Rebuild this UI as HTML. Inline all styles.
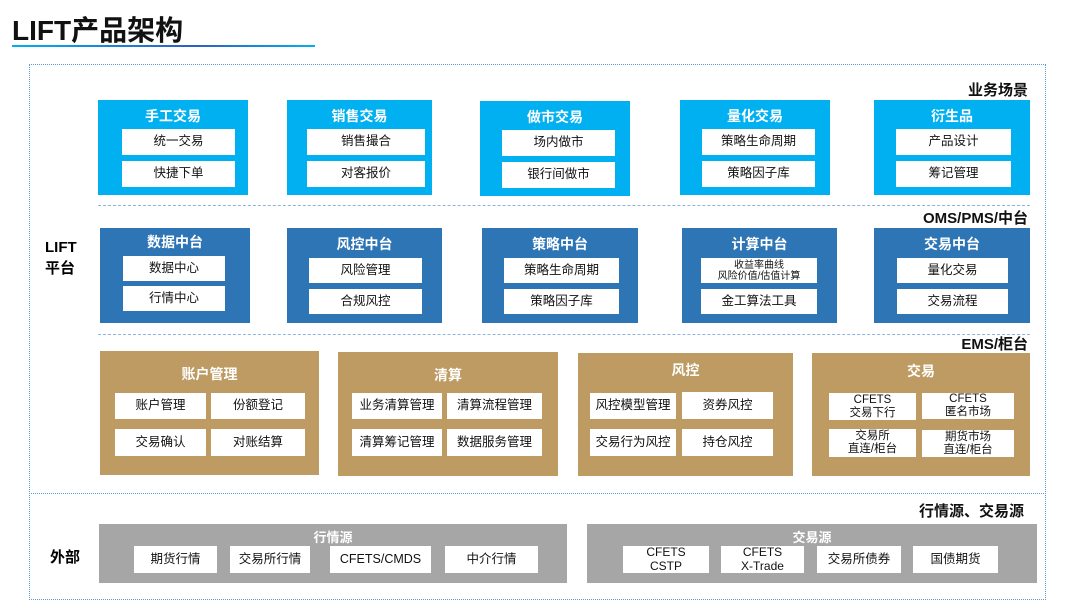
<!DOCTYPE html>
<html><head><meta charset="utf-8"><style>
*{margin:0;padding:0;box-sizing:border-box}
body{width:1080px;height:616px;background:#fff;position:relative;overflow:hidden;font-family:"Liberation Sans","Noto Sans CJK SC",sans-serif}
.a{position:absolute}
.t{position:absolute;color:#fff;font-weight:bold;font-size:14px;text-align:center;left:0;right:0}
.w{position:absolute;background:#fff;color:#111;font-size:12.5px;text-align:center;display:flex;align-items:center;justify-content:center;line-height:1.1}
.c{background:#00b0f0}.b{background:#2e75b6}.g{background:#bd9b63}.gr{background:#a6a6a6}
.lbl{position:absolute;font-weight:bold;font-size:15px;color:#111;text-align:right}
.dash{position:absolute;height:0;border-top:1.5px dashed #8db3e2}
</style></head><body>
<div class="a" style="left:12px;top:9px;font-size:28px;font-weight:bold;color:#111">LIFT产品架构</div>
<div class="a" style="left:12px;top:45px;width:303px;height:2px;background:linear-gradient(90deg,#00b0f0,#2e5fc0 60%,#00b0f0)"></div>
<div class="a" style="left:29px;top:64px;width:1017px;height:430px;border:1px dotted #5b9bd5"></div>
<div class="a" style="left:29px;top:493px;width:1017px;height:107px;border:1px dotted #5b9bd5"></div>

<div class="lbl" style="right:52px;top:79px">业务场景</div>
<div class="lbl" style="right:52px;top:207px">OMS/PMS/中台</div>
<div class="lbl" style="right:52px;top:333px">EMS/柜台</div>
<div class="lbl" style="right:56px;top:500px">行情源、交易源</div>
<div class="a" style="left:45px;top:237px;font-weight:bold;font-size:15px;line-height:21px">LIFT<br>平台</div>
<div class="a" style="left:50px;top:546px;font-weight:bold;font-size:15px">外部</div>

<div class="dash" style="left:98px;top:205px;width:932px"></div>
<div class="dash" style="left:98px;top:334px;width:932px"></div>

<!-- row1 -->
<div class="a c" style="left:98px;top:100px;width:150px;height:95px"><div class="t" style="top:6px">手工交易</div><div class="w" style="left:24px;top:29px;width:113px;height:26px">统一交易</div><div class="w" style="left:24px;top:61px;width:113px;height:26px">快捷下单</div></div>
<div class="a c" style="left:287px;top:100px;width:145px;height:95px"><div class="t" style="top:6px">销售交易</div><div class="w" style="left:20px;top:29px;width:118px;height:26px">销售撮合</div><div class="w" style="left:20px;top:61px;width:118px;height:26px">对客报价</div></div>
<div class="a c" style="left:480px;top:101px;width:150px;height:95px"><div class="t" style="top:6px">做市交易</div><div class="w" style="left:22px;top:29px;width:113px;height:26px">场内做市</div><div class="w" style="left:22px;top:61px;width:113px;height:26px">银行间做市</div></div>
<div class="a c" style="left:680px;top:100px;width:150px;height:95px"><div class="t" style="top:6px">量化交易</div><div class="w" style="left:22px;top:29px;width:113px;height:26px">策略生命周期</div><div class="w" style="left:22px;top:61px;width:113px;height:26px">策略因子库</div></div>
<div class="a c" style="left:874px;top:100px;width:156px;height:95px"><div class="t" style="top:6px">衍生品</div><div class="w" style="left:22px;top:29px;width:115px;height:26px">产品设计</div><div class="w" style="left:22px;top:61px;width:115px;height:26px">筹记管理</div></div>

<!-- row2 -->
<div class="a b" style="left:100px;top:228px;width:150px;height:95px"><div class="t" style="top:4px">数据中台</div><div class="w" style="left:23px;top:28px;width:102px;height:25px">数据中心</div><div class="w" style="left:23px;top:58px;width:102px;height:25px">行情中心</div></div>
<div class="a b" style="left:287px;top:228px;width:155px;height:95px"><div class="t" style="top:6px">风控中台</div><div class="w" style="left:22px;top:30px;width:113px;height:25px">风险管理</div><div class="w" style="left:22px;top:61px;width:113px;height:25px">合规风控</div></div>
<div class="a b" style="left:482px;top:228px;width:156px;height:95px"><div class="t" style="top:6px">策略中台</div><div class="w" style="left:22px;top:30px;width:115px;height:25px">策略生命周期</div><div class="w" style="left:22px;top:61px;width:115px;height:25px">策略因子库</div></div>
<div class="a b" style="left:682px;top:228px;width:155px;height:95px"><div class="t" style="top:6px">计算中台</div><div class="w" style="left:19px;top:30px;width:116px;height:25px;font-size:10px;flex-direction:column">收益率曲线<br>风险价值/估值计算</div><div class="w" style="left:19px;top:61px;width:116px;height:25px">金工算法工具</div></div>
<div class="a b" style="left:874px;top:228px;width:156px;height:95px"><div class="t" style="top:6px">交易中台</div><div class="w" style="left:23px;top:30px;width:111px;height:25px">量化交易</div><div class="w" style="left:23px;top:61px;width:111px;height:25px">交易流程</div></div>

<!-- row3 -->
<div class="a g" style="left:100px;top:351px;width:219px;height:124px"><div class="t" style="top:13px">账户管理</div><div class="w" style="left:15px;top:42px;width:91px;height:26px">账户管理</div><div class="w" style="left:111px;top:42px;width:94px;height:26px">份额登记</div><div class="w" style="left:15px;top:78px;width:91px;height:27px">交易确认</div><div class="w" style="left:111px;top:78px;width:94px;height:27px">对账结算</div></div>
<div class="a g" style="left:338px;top:352px;width:220px;height:124px"><div class="t" style="top:13px">清算</div><div class="w" style="left:14px;top:41px;width:90px;height:26px">业务清算管理</div><div class="w" style="left:109px;top:41px;width:95px;height:26px">清算流程管理</div><div class="w" style="left:14px;top:77px;width:90px;height:27px">清算筹记管理</div><div class="w" style="left:109px;top:77px;width:95px;height:27px">数据服务管理</div></div>
<div class="a g" style="left:578px;top:353px;width:215px;height:123px"><div class="t" style="top:7px">风控</div><div class="w" style="left:12px;top:40px;width:86px;height:26px">风控模型管理</div><div class="w" style="left:104px;top:39px;width:91px;height:27px">资券风控</div><div class="w" style="left:12px;top:76px;width:86px;height:27px">交易行为风控</div><div class="w" style="left:104px;top:76px;width:91px;height:27px">持仓风控</div></div>
<div class="a g" style="left:812px;top:353px;width:218px;height:123px"><div class="t" style="top:8px">交易</div><div class="w" style="left:17px;top:40px;width:87px;height:27px;font-size:11.5px">CFETS<br>交易下行</div><div class="w" style="left:110px;top:40px;width:92px;height:26px;font-size:11.5px">CFETS<br>匿名市场</div><div class="w" style="left:17px;top:76px;width:87px;height:28px;font-size:11.5px">交易所<br>直连/柜台</div><div class="w" style="left:110px;top:77px;width:92px;height:27px;font-size:11.5px">期货市场<br>直连/柜台</div></div>

<!-- bottom -->
<div class="a gr" style="left:99px;top:524px;width:468px;height:59px"><div class="t" style="top:3px;font-size:13px">行情源</div><div class="w" style="left:35px;top:22px;width:83px;height:27px">期货行情</div><div class="w" style="left:131px;top:22px;width:80px;height:27px">交易所行情</div><div class="w" style="left:231px;top:22px;width:101px;height:27px">CFETS/CMDS</div><div class="w" style="left:346px;top:22px;width:93px;height:27px">中介行情</div></div>
<div class="a gr" style="left:587px;top:524px;width:450px;height:59px"><div class="t" style="top:3px;font-size:13px">交易源</div><div class="w" style="left:36px;top:22px;width:86px;height:27px;font-size:12px">CFETS<br>CSTP</div><div class="w" style="left:134px;top:22px;width:83px;height:27px;font-size:12px">CFETS<br>X-Trade</div><div class="w" style="left:230px;top:22px;width:84px;height:27px">交易所债券</div><div class="w" style="left:326px;top:22px;width:85px;height:27px">国债期货</div></div>
</body></html>
